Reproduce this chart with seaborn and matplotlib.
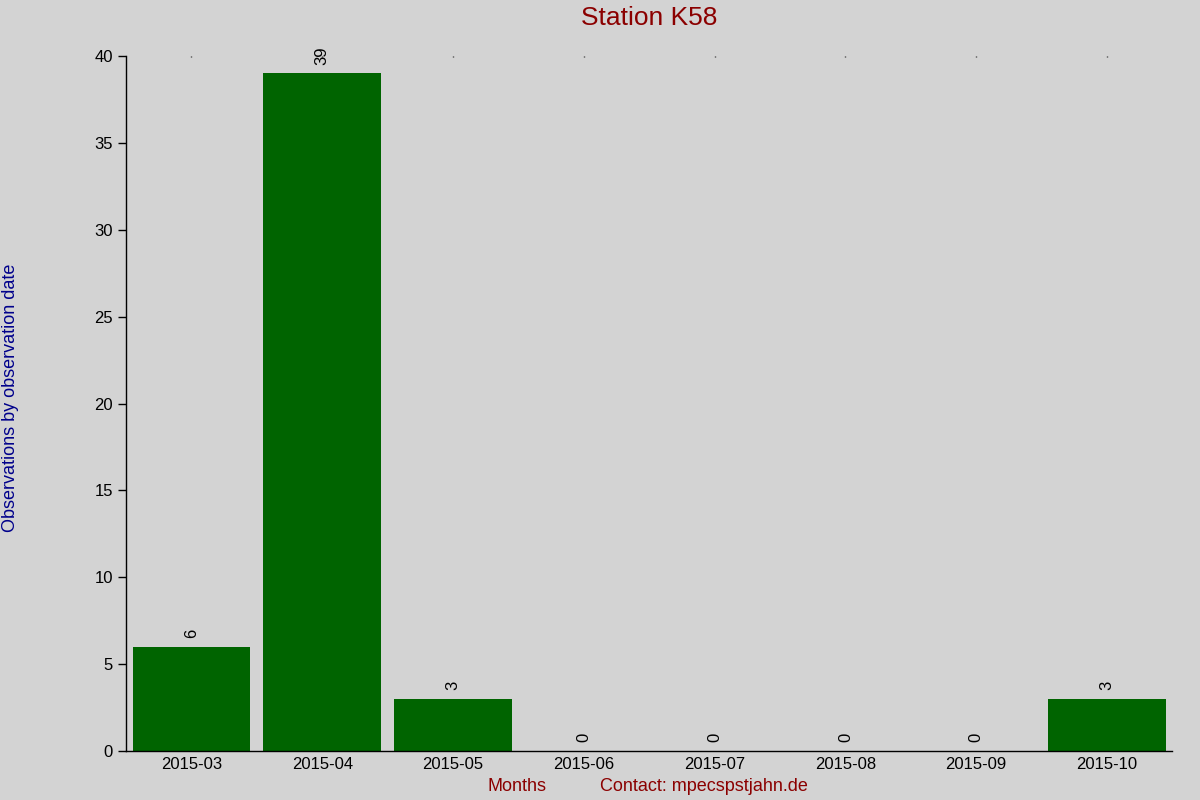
import pandas as pd
import numpy as np
import matplotlib
matplotlib.use("Agg")
import matplotlib.pyplot as plt
import seaborn as sns

months = ["2015-03", "2015-04", "2015-05", "2015-06", "2015-07", "2015-08", "2015-09", "2015-10"]
counts = [6, 39, 3, 0, 0, 0, 0, 3]

df = pd.DataFrame({"month": months, "count": counts})

sns.set_style("white")
plt.rcParams['font.family'] = ['Liberation Sans', 'DejaVu Sans']

fig = plt.figure(figsize=(12, 8), dpi=100, facecolor="#d3d3d3")
ax = fig.add_axes([0.105, 0.06125, 0.872, 0.86875])
ax.set_facecolor("#d3d3d3")

sns.barplot(data=df, x="month", y="count", color="#006400", width=0.9, saturation=1,
            linewidth=0, edgecolor="none", ax=ax)

ax.set_xlim(-0.5, 7.5)
ax.set_ylim(0, 40)
ax.set_yticks(np.arange(0, 41, 5))
for s in ["top", "right"]:
    ax.spines[s].set_visible(False)
ax.spines["left"].set_color("black")
ax.spines["bottom"].set_color("black")
ax.spines["left"].set_linewidth(1)
ax.spines["bottom"].set_linewidth(1)

ax.tick_params(axis="y", direction="out", length=6, width=1, left=True, labelsize=12, colors="black")
ax.tick_params(axis="x", bottom=False, top=True, direction="in", length=1, width=1,
               labelsize=12, pad=4, labelcolor="black")

# valeurs au-dessus des barres
for i, v in enumerate(counts):
    ax.text(i, v + 0.5, str(v), rotation=90, ha="center", va="bottom", fontsize=12, color="black")

ax.set_xlabel("")
ax.set_ylabel("")
fig.text(0.541, 0.978, "Station K58", ha="center", va="center", fontsize=19, color="#8b0000")
fig.text(0.009, 0.503, "Observations by observation date", rotation=90, ha="center", va="center",
         fontsize=13, color="#00008b")
fig.text(0.431, 0.017, "Months", ha="center", va="center", fontsize=13, color="#8b0000")
fig.text(0.587, 0.017, "Contact: mpecspstjahn.de", ha="center", va="center", fontsize=13, color="#8b0000")

fig.savefig("out.png", dpi=100, facecolor=fig.get_facecolor())
